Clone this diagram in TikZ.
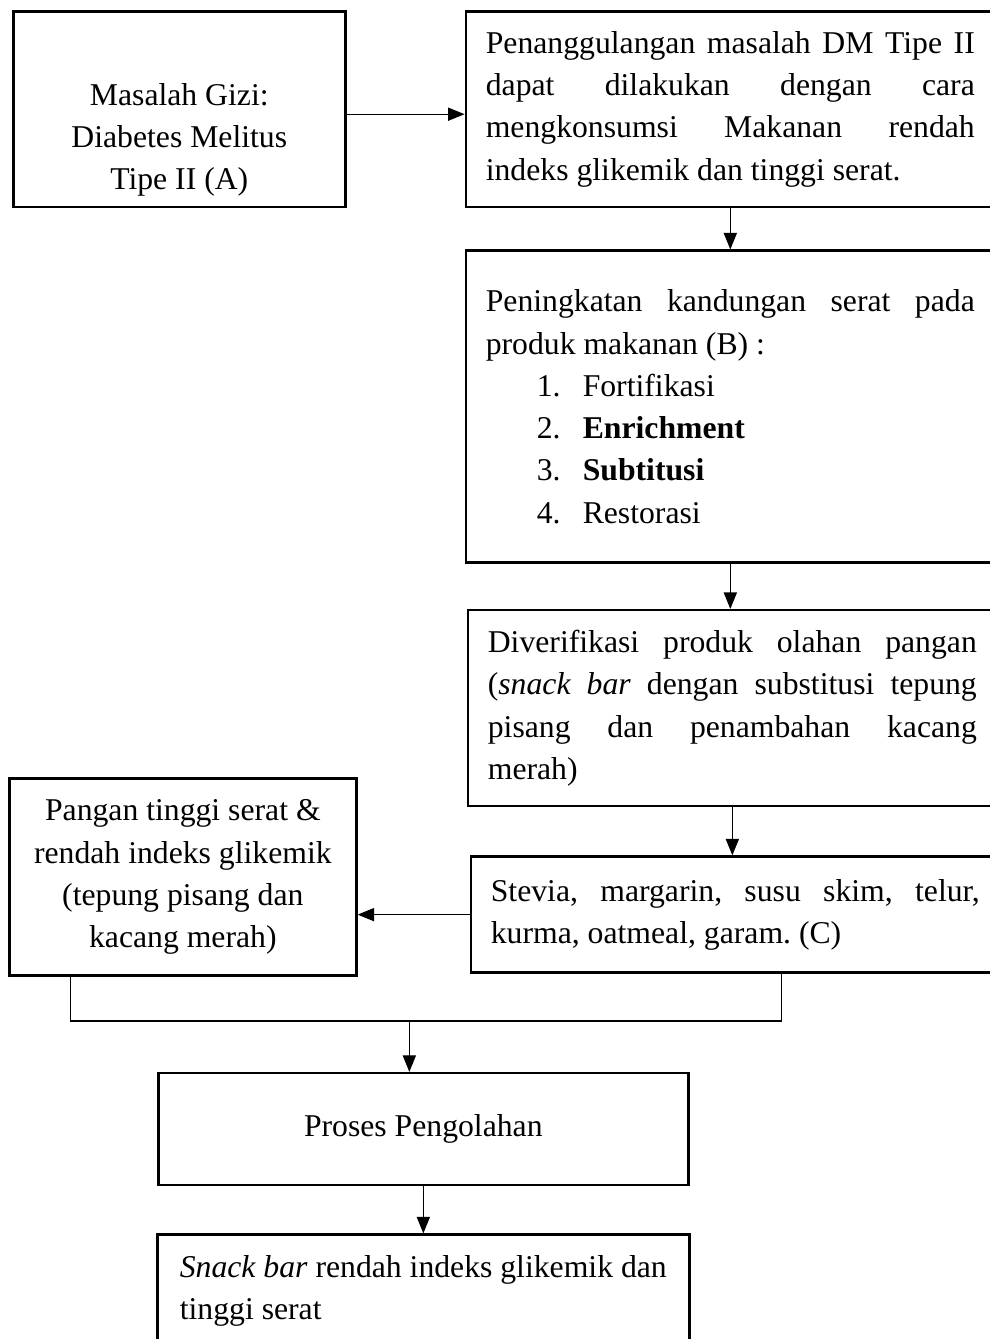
\documentclass[tikz,border=0pt]{standalone}
\usepackage{fontspec}
\setmainfont{Liberation Serif}
\usepackage{tikz}
\usetikzlibrary{arrows.meta, positioning, calc}
\tolerance=10000
\hyphenpenalty=10000
\frenchspacing
\tikzstyle{arrow} = [line width=0.45pt, -{Triangle[length=2.2mm, width=1.75mm]}]
\tikzstyle{line} = [line width=0.45pt]
\tikzstyle{basic} = [rectangle, draw=black, line width=0.95pt, fill=white, text=black, font=\fontsize{12}{16}\selectfont]
\tikzstyle{wide} = [basic, minimum width=70.37mm, text width=65.05mm, inner xsep=2.66mm, align=justify]
\newcommand{\seratitem}[2]{\hspace*{19.3pt}\makebox[17.4pt][l]{#1}#2}

\begin{document}
\begin{tikzpicture}[node distance=0mm]
\useasboundingbox (0,0) rectangle (131.7mm,-178.13mm);

\node (gizi) [basic, minimum width=44.17mm, minimum height=26.07mm, anchor=north west] at (1.6mm,-1.33mm) {};
\node (gizitxt) [font=\fontsize{12}{16}\selectfont, align=center, yshift=-4.1mm] at (gizi.center) {Masalah Gizi:\\Diabetes Melitus\\Tipe II (A)};

\node (solusi) [wide, minimum height=26.07mm, anchor=north west, xshift=15.7mm] at (gizi.north east) {Penanggulangan masalah DM Tipe II\linebreak dapat dilakukan dengan cara\linebreak mengkonsumsi Makanan rendah\linebreak indeks glikemik dan tinggi serat.};
\node (serat) [wide, minimum height=41.5mm, anchor=north, yshift=-5.45mm] at (solusi.south) {Peningkatan kandungan serat pada\linebreak produk makanan (B) :\\
\seratitem{1.}{Fortifikasi}\\
\seratitem{2.}{\textbf{Enrichment}}\\
\seratitem{3.}{\textbf{Subtitusi}}\\
\seratitem{4.}{Restorasi}};
\node (verif) [wide, minimum height=26.07mm, anchor=north, yshift=-5.99mm, xshift=0.27mm] at (serat.south) {Diverifikasi produk olahan pangan\linebreak (\textit{snack bar} dengan substitusi tepung\linebreak pisang dan penambahan kacang\linebreak merah)};
\node (bahan) [wide, minimum height=15.43mm, anchor=north, yshift=-6.38mm, xshift=0.4mm] at (verif.south) {Stevia, margarin, susu skim, telur,\linebreak kurma, oatmeal, garam. (C)};

\node (pangan) [basic, minimum width=46.16mm, minimum height=26.21mm, align=center, anchor=east, xshift=-14.9mm, yshift=4.99mm] at (bahan.west) {Pangan tinggi serat \&\\rendah indeks glikemik\\(tepung pisang dan\\kacang merah)};
\node (proses) [basic, minimum width=70.5mm, minimum height=14.9mm, anchor=north west, xshift=19.82mm, yshift=-12.64mm] at (pangan.south west) {Proses Pengolahan};
\node (snack) [basic, minimum width=70.77mm, minimum height=14.9mm, align=left, anchor=north, yshift=-6.25mm] at (proses.south) {\textit{Snack bar} rendah indeks glikemik dan\\tinggi serat};

\coordinate (merge) at ($(proses.north)+(-1.86mm,6.78mm)$);

\draw [arrow] ($(gizi.east)+(0,-0.66mm)$) -- ($(solusi.west)+(0,-0.66mm)$);
\draw [arrow] (solusi.south) -- (serat.north);
\draw [arrow] (serat.south) -- (serat.south |- verif.north);
\draw [arrow] (verif.south) -- (verif.south |- bahan.north);
\draw [arrow] (bahan.west) -- (bahan.west -| pangan.east);
\draw [line] ($(pangan.south west)+(8.25mm,0)$) |- (merge) -| ($(bahan.south)+(6.19mm,0)$);
\draw [arrow] (merge) -- (merge |- proses.north);
\draw [arrow] (proses.south) -- (snack.north);

\end{tikzpicture}
\end{document}
